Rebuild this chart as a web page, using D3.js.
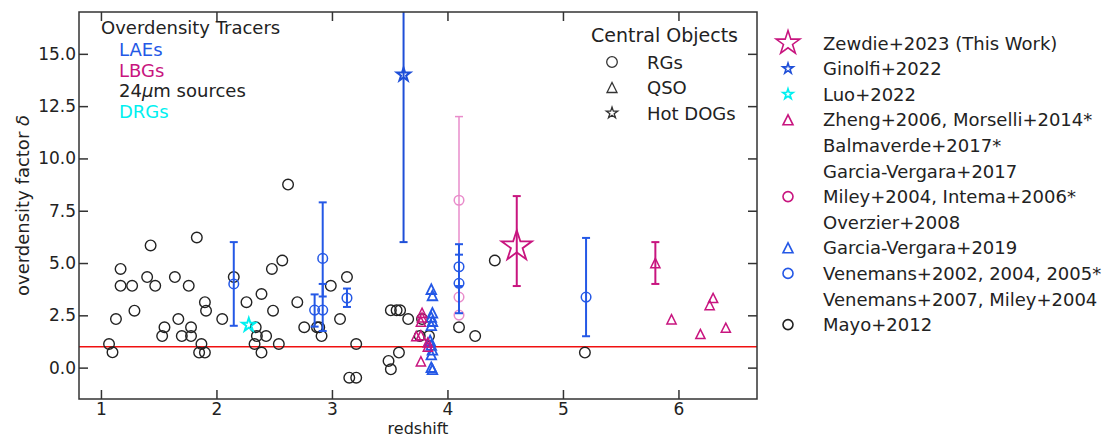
<!DOCTYPE html>
<html>
<head>
<meta charset="utf-8">
<script src="https://cdn.jsdelivr.net/npm/d3@7"></script>
<style>
body { margin: 0; background: #fff; }
text { font-family: "DejaVu Sans", sans-serif; fill: #222; }
</style>
</head>
<body>
<div id="chart"></div>
<script>
// Mayo+2012 : radio galaxies traced by 24um sources [z, delta]
var mayo = [
  [1.07,1.13],[1.10,0.73],[1.13,2.32],[1.17,4.72],[1.17,3.91],[1.27,3.91],[1.29,2.72],
  [1.40,4.33],[1.43,5.84],[1.47,3.91],[1.55,1.93],[1.53,1.51],[1.64,4.33],[1.67,2.32],
  [1.70,1.51],[1.76,3.91],[1.78,1.93],[1.78,1.51],[1.83,6.22],[1.90,3.13],[1.91,2.72],
  [1.87,1.13],[1.85,0.72],[1.90,0.72],[2.05,2.32],[2.15,4.33],[2.26,3.13],[2.34,1.93],
  [2.35,1.51],[2.33,1.13],[2.39,0.72],[2.39,3.52],[2.43,1.51],[2.48,4.72],[2.49,2.72],
  [2.54,1.13],[2.57,5.12],[2.62,8.75],[2.70,3.13],[2.76,1.93],[2.87,1.93],[2.89,1.93],
  [2.91,1.51],[2.99,3.91],[3.07,2.32],[3.13,4.33],[3.15,-0.48],[3.21,-0.48],[3.21,1.13],
  [3.49,0.32],[3.51,-0.08],[3.58,0.72],[3.51,2.74],[3.56,2.74],[3.59,2.74],[3.66,2.32],
  [3.78,2.32],[3.76,1.51],[3.84,1.51],[4.10,1.93],[4.24,1.51],[4.41,5.12],[5.19,0.72]
];
// Venemans / Miley : radio galaxies traced by LAEs [z, delta, low, high]
var venemans = [
  [2.15,4.00,2.00,6.00],[2.85,2.75,1.96,3.50],[2.92,2.75,1.75,4.00],[2.92,5.22,3.40,7.90],
  [3.13,3.33,2.90,3.78],[4.10,4.82,3.90,5.90],[4.10,4.03,2.60,5.40],[5.20,3.37,1.50,6.20]
];
// Miley+2004, Intema+2006, Overzier+2008 : radio galaxies traced by LBGs
var miley = [[4.10,8.00,2.60,12.00],[4.10,3.37,3.37,3.37],[4.10,2.51,2.51,2.51]];
// Zheng+2006, Morselli+2014, Balmaverde+2017, Garcia-Vergara+2017 : QSOs traced by LBGs
var zheng = [
  [3.78,2.62,2.62,2.62],[3.78,2.40,2.40,2.40],[3.77,2.20,2.20,2.20],[3.73,1.51,1.51,1.51],
  [3.77,1.55,1.55,1.55],[3.83,1.20,1.20,1.20],[3.83,1.00,1.00,1.00],[3.77,0.30,0.30,0.30],
  [5.80,5.00,4.00,6.00],[5.94,2.31,2.31,2.31],[6.19,1.61,1.61,1.61],[6.27,2.99,2.99,2.99],
  [6.30,3.33,3.33,3.33],[6.41,1.91,1.91,1.91]
];
// Garcia-Vergara+2019 : QSOs traced by LAEs
var garcia2019 = [
  [3.86,3.75],[3.87,3.45],[3.87,2.62],[3.86,2.42],[3.87,2.22],[3.86,2.02],
  [3.85,1.30],[3.86,1.08],[3.87,0.85],[3.86,0.62],[3.86,0.02],[3.87,-0.08]
];
var ginolfi = [[3.62,14.0,6.0,22.0]];
var luo = [[2.28,2.04]];
var zewdie = [[4.60,5.80,3.90,8.20]];
var deltaRef = 1;

var xTicks = [1,2,3,4,5,6];
var yTicks = [0,2.5,5,7.5,10,12.5,15];

var tracerLabels = ["LAEs","LBGs","24|\u03bc|m sources","DRGs"];
var centralLabels = ["RGs","QSO","Hot DOGs"];
var refLabels = ["Zewdie+2023 (This Work)","Ginolfi+2022","Luo+2022","Zheng+2006, Morselli+2014*",
  "Balmaverde+2017*","Garcia-Vergara+2017","Miley+2004, Intema+2006*","Overzier+2008",
  "Garcia-Vergara+2019","Venemans+2002, 2004, 2005*","Venemans+2007, Miley+2004","Mayo+2012"];

var BLUE = "#2458e6", MAG = "#c8157f", PINK = "#e98ccb", CYAN = "#00f0f0", BLK = "#222";

var W = 1113, H = 438;
var box = {left: 79, right: 757, top: 12, bottom: 399};

var svg = d3.select("#chart").append("svg")
    .attr("width", W)
    .attr("height", H);

var x = d3.scaleLinear().domain([0.81, 6.68]).range([box.left, box.right]);
var y = d3.scaleLinear().domain([-1.5, 17]).range([box.bottom, box.top]);

function starPath(R) {
    var r = R * 0.381966, p = [];
    for (var i = 0; i < 10; i++) {
        var a = -Math.PI / 2 + i * Math.PI / 5, rr = i % 2 ? r : R;
        p.push([rr * Math.cos(a), rr * Math.sin(a)]);
    }
    return "M" + p.join("L") + "Z";
}
function triPath(s) {
    return "M0," + (-s) + "L" + (-s) + "," + s + "L" + s + "," + s + "Z";
}
var circ = function(r){ return "M" + r + ",0A" + r + "," + r + " 0 1,1 " + (-r) + ",0A" + r + "," + r + " 0 1,1 " + r + ",0Z"; };

// text with |...| parts set in italic (math symbols)
function mathText(sel, t) {
    t.split("|").forEach(function(part, i) {
        if (part) sel.append("tspan").style("font-style", i % 2 ? "italic" : null).text(part);
    });
    return sel;
}

svg.append("clipPath").attr("id", "clip")
    .append("rect")
    .attr("x", box.left).attr("y", box.top)
    .attr("width", box.right - box.left).attr("height", box.bottom - box.top);

var plot = svg.append("g").attr("clip-path", "url(#clip)");

// reference line delta = 1
plot.append("line")
    .attr("x1", box.left).attr("x2", box.right)
    .attr("y1", y(deltaRef)).attr("y2", y(deltaRef))
    .attr("stroke", "#f01010").attr("stroke-width", 1.5);

function errorbars(data, color, width) {
    var g = plot.append("g").attr("stroke", color).attr("stroke-width", width).attr("fill", "none");
    data.filter(function(d){ return d[2] != d[3]; }).forEach(function(d) {
        g.append("line").attr("x1", x(d[0])).attr("x2", x(d[0])).attr("y1", y(d[2])).attr("y2", y(d[3]));
        [d[2], d[3]].forEach(function(v) {
            g.append("line").attr("x1", x(d[0]) - 4).attr("x2", x(d[0]) + 4).attr("y1", y(v)).attr("y2", y(v));
        });
    });
}
function markers(data, path, color, width) {
    plot.append("g").selectAll("path")
        .data(data)
        .enter()
        .append("path")
        .attr("d", path)
        .attr("transform", function(d){ return "translate(" + x(d[0]) + "," + y(d[1]) + ")"; })
        .attr("fill", "none")
        .attr("stroke", color)
        .attr("stroke-width", width);
}

markers(mayo, circ(5.3), BLK, 1.4);
errorbars(miley, PINK, 1.5);
markers(miley, circ(4.8), PINK, 1.5);
errorbars(venemans, BLUE, 2);
markers(venemans, circ(4.8), BLUE, 1.5);
markers(garcia2019, triPath(4.8), BLUE, 1.8);
errorbars(zheng, MAG, 2);
markers(zheng, triPath(4.6), MAG, 1.5);
errorbars(ginolfi, "#1f4fd8", 2);
markers(ginolfi, starPath(7), "#1f4fd8", 2);
markers(luo, starPath(7), CYAN, 2);
errorbars(zewdie, MAG, 2);
markers(zewdie, starPath(16), MAG, 1.8);

// axes, ticks pointing in
var axes = svg.append("g");
var xAxisG = axes.append("g").attr("transform", "translate(0," + box.bottom + ")")
    .call(d3.axisBottom(x).tickValues(xTicks).tickFormat(d3.format("d")).tickSizeInner(-9).tickSizeOuter(0).tickPadding(4));
axes.append("g").attr("transform", "translate(0," + box.top + ")")
    .call(d3.axisTop(x).tickValues(xTicks).tickFormat("").tickSizeInner(-9).tickSizeOuter(0));
axes.append("g").attr("transform", "translate(" + box.left + ",0)")
    .call(d3.axisLeft(y).tickValues(yTicks).tickFormat(d3.format(".1f")).tickSizeInner(-9).tickSizeOuter(0).tickPadding(3));
axes.append("g").attr("transform", "translate(" + box.right + ",0)")
    .call(d3.axisRight(y).tickValues(yTicks).tickFormat("").tickSizeInner(-9).tickSizeOuter(0));
axes.selectAll(".domain").remove();
axes.selectAll("g").attr("font-size", 17).attr("font-family", "DejaVu Sans");
xAxisG.attr("font-size", 16);
axes.selectAll(".tick line").attr("stroke", "#333").attr("stroke-width", 1.5);
axes.selectAll(".tick text").attr("fill", "#222");
svg.append("rect")
    .attr("x", box.left).attr("y", box.top)
    .attr("width", box.right - box.left).attr("height", box.bottom - box.top)
    .attr("fill", "none").attr("stroke", "#333").attr("stroke-width", 1.5);

svg.append("text").attr("x", (box.left + box.right) / 2).attr("y", 434)
    .attr("text-anchor", "middle")
    .attr("font-size", 16).text("redshift");
mathText(svg.append("text").attr("transform", "translate(22," + (box.top + box.bottom) / 2 + ") rotate(-90)")
    .attr("text-anchor", "middle").attr("dominant-baseline", "central")
    .attr("font-size", 18), "overdensity factor |\u03b4|");

// tracer legend
var tracerColors = [BLUE, MAG, BLK, CYAN];
svg.append("text").attr("x", 101).attr("y", 27).attr("dominant-baseline", "central")
    .attr("font-size", 18).text("Overdensity Tracers");
tracerLabels.forEach(function(t, i) {
    mathText(svg.append("text").attr("x", 119).attr("y", 49 + i * 20.5).attr("dominant-baseline", "central")
        .attr("font-size", 18).style("fill", tracerColors[i]), t);
});

// central object legend
var centralShapes = [circ(5.3), triPath(5), starPath(6)];
svg.append("text").attr("x", 591).attr("y", 35).attr("dominant-baseline", "central")
    .attr("font-size", 19).text("Central Objects");
centralLabels.forEach(function(t, i) {
    var yy = 62 + i * 25.5;
    svg.append("path").attr("d", centralShapes[i]).attr("transform", "translate(612," + yy + ")")
        .attr("fill", "none").attr("stroke", "#333").attr("stroke-width", 1.3);
    svg.append("text").attr("x", 647).attr("y", yy).attr("dominant-baseline", "central")
        .attr("font-size", 18).text(t);
});

// reference legend (outside right)
var refMarks = [
    [starPath(12.5), MAG], [starPath(5.5), "#1f4fd8"], [starPath(5.5), CYAN], [triPath(5), MAG],
    null, null, [circ(5), MAG], null, [triPath(5), BLUE], [circ(5), BLUE], null, [circ(5), BLK]
];
refLabels.forEach(function(t, i) {
    var yy = 43 + i * 25.6;
    if (refMarks[i]) {
        svg.append("path").attr("d", refMarks[i][0]).attr("transform", "translate(788," + yy + ")")
            .attr("fill", "none").attr("stroke", refMarks[i][1]).attr("stroke-width", 1.6);
    }
    svg.append("text").attr("x", 823).attr("y", yy).attr("dominant-baseline", "central")
        .attr("font-size", 18).text(t);
});
</script>
</body>
</html>
